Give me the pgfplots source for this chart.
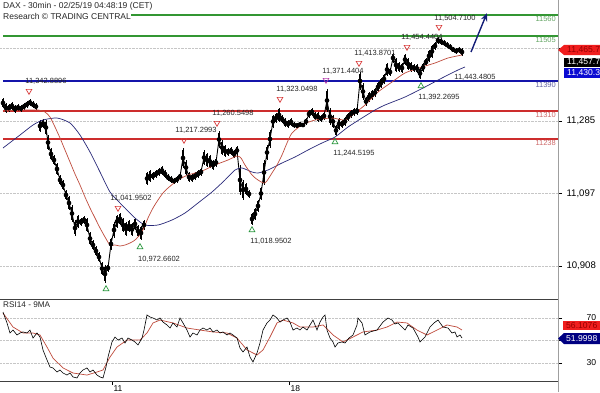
\documentclass[border=0pt]{standalone}
\usepackage{pgfplots}
\pgfplotsset{compat=1.18}
\usepackage{pgfplotstable}
\usetikzlibrary{arrows.meta}
\usepackage{fontspec}
\setmainfont{Liberation Sans}
\definecolor{lvgreen}{RGB}{50,150,50}
\definecolor{lvblue}{RGB}{20,20,170}
\definecolor{lvred}{RGB}{205,45,45}
\definecolor{txgreen}{RGB}{100,165,100}
\definecolor{txblue}{RGB}{100,100,165}
\definecolor{txred}{RGB}{205,105,105}
\definecolor{mared}{RGB}{190,75,60}
\definecolor{mablue}{RGB}{40,40,120}
\definecolor{trired}{RGB}{215,55,55}
\definecolor{tripurple}{RGB}{180,60,170}
\definecolor{trigreen}{RGB}{40,150,60}
\definecolor{arrowblue}{RGB}{20,30,120}
\definecolor{tagred}{RGB}{240,30,30}
\definecolor{tagredtx}{RGB}{150,0,0}
\definecolor{tagblue}{RGB}{10,10,210}
\definecolor{tagnavy}{RGB}{0,0,130}

\pgfplotstableread{
x y h
3 11331.8 13.0
6 11318.8 13.0
9 11318.8 10.4
12 11324.0 10.4
15 11316.2 10.4
18 11320.1 9.1
21 11317.5 9.1
24 11322.7 9.1
27 11327.9 9.1
30 11333.1 9.1
33 11327.9 9.1
36 11322.7 9.1
38 nan 0
40 11272.0 15.6
43 11278.5 11.7
46 11268.1 19.5
48 11229.1 19.5
51 11199.2 15.6
54 11183.6 13.0
57 11160.2 15.6
60 11131.6 13.0
63 11118.6 13.0
66 11092.6 13.0
69 11071.8 18.2
72 11044.5 22.1
75 11006.8 20.8
78 11023.7 16.9
81 11022.4 10.4
84 11027.6 10.4
87 11014.6 18.2
90 10979.5 16.9
93 10962.6 13.0
96 10947.0 13.0
99 10931.4 13.0
102 10901.5 16.9
105 10887.2 23.4
108 10902.8 10.4
111 10965.2 15.6
114 11001.6 20.8
117 11023.7 16.9
120 11030.2 15.6
123 11014.6 18.2
126 11004.2 18.2
129 11012.0 15.6
132 11002.9 16.9
135 11017.2 15.6
138 10999.0 15.6
141 10993.8 18.2
144 11014.6 13.0
145.5 nan 0
147 11135.5 16.9
150 11142.0 15.6
153 11142.0 10.4
156 11147.2 10.4
159 11152.4 10.4
162 11156.3 11.7
165 11147.2 10.4
168 11138.1 9.1
171 11132.9 9.1
174 11129.0 7.8
177 11132.9 9.1
180 11140.7 9.1
183 11188.8 26.0
186 11164.1 19.5
189 11139.4 13.0
192 11136.8 10.4
195 11142.0 10.4
198 11147.2 10.4
201 11152.4 10.4
204 11190.1 19.5
207 11183.6 18.2
210 11179.7 16.9
213 11170.6 13.0
216 11177.1 11.7
219 11236.9 22.1
222 11216.1 19.5
225 11207.0 15.6
228 11204.4 10.4
231 11207.0 10.4
234 11199.2 10.4
237 11208.3 11.7
240 11131.6 39.0
243 11105.6 26.0
246 11108.2 15.6
249 11095.2 10.4
250.5 nan 0
252 11030.2 15.6
255 11043.2 15.6
258 11064.0 15.6
261 11096.5 16.9
264 11151.1 32.5
267 11203.1 19.5
270 11238.2 23.4
273 11283.7 16.9
276 11292.8 13.0
279 11300.6 18.2
282 11290.2 10.4
285 11281.1 11.7
288 11277.2 10.4
291 11282.4 10.4
294 11274.6 7.8
297 11273.3 6.5
300 11275.9 6.5
303 11274.6 5.2
306 11283.7 9.1
309 11303.2 10.4
312 11308.4 10.4
315 11298.0 10.4
318 11295.4 13.0
321 11291.5 9.1
324 11298.0 10.4
327 11338.3 29.9
330 11296.7 22.1
333 11283.7 16.9
336 11260.3 14.3
339 11277.2 15.6
342 11277.2 10.4
345 11283.7 11.7
348 11295.4 10.4
351 11303.2 10.4
354 11308.4 10.4
357 11311.0 10.4
360 11389.0 23.4
363 11361.7 22.1
366 11335.7 11.7
369 11347.4 13.0
372 11352.6 13.0
375 11359.1 11.7
378 11373.4 13.0
381 11383.8 13.0
384 11394.2 13.0
387 11418.9 16.9
390 11412.4 10.4
393 11448.8 13.0
396 11430.6 18.2
399 11425.4 13.0
402 11422.8 13.0
405 11444.9 14.3
408 11433.2 15.6
411 11425.4 13.0
414 11422.8 10.4
417 11421.5 11.7
420 11408.5 14.3
423 11424.1 11.7
426 11438.4 10.4
429 11454.0 15.6
432 11465.7 16.9
435 11480.0 10.4
438 11494.3 9.1
441 11491.7 9.1
444 11487.8 7.8
447 11482.6 7.8
450 11477.4 7.8
453 11470.9 6.5
456 11467.0 7.8
459 11469.6 7.8
462 11464.4 10.4
}\candles

\begin{document}
\begin{tikzpicture}
\useasboundingbox (0pt,0pt) rectangle (600pt,392pt);
\begin{axis}[
  at={(0pt,93pt)}, anchor=south west,
  scale only axis, width=558pt, height=299pt,
  xmin=0, xmax=558, ymin=10822.2, ymax=11599.6,
  axis line style={draw=none},
  xtick=\empty,
  ytick={10908,11097,11285,11474},
  yticklabels={{10,908},{11,097},{11,285},{}},
  ytick pos=right, yticklabel pos=right,
  tick align=outside, major tick length=4pt,
  tick style={black, line width=0.5pt},
  yticklabel style={font=\fontsize{9.6}{10}\selectfont, anchor=west, xshift=1pt},
  ymajorgrids, grid style={densely dotted, gray!45, line width=0.6pt},
  unbounded coords=jump,
  clip=false,
]
% level lines
\draw[lvgreen, line width=1.8pt] (axis cs:131,11560) -- (axis cs:558,11560);
\draw[lvgreen, line width=1.8pt] (axis cs:3,11505) -- (axis cs:558,11505);
\draw[lvblue, line width=1.8pt] (axis cs:3,11390) -- (axis cs:558,11390);
\draw[lvred, line width=1.8pt] (axis cs:3,11310) -- (axis cs:558,11310);
\draw[lvred, line width=1.8pt] (axis cs:3,11238) -- (axis cs:558,11238);
\node[anchor=north east, inner sep=1pt, text=txgreen, font=\fontsize{7.5}{8}\selectfont] at (axis cs:557,11560) {11560};
\node[anchor=north east, inner sep=1pt, text=txgreen, font=\fontsize{7.5}{8}\selectfont] at (axis cs:557,11505) {11505};
\node[anchor=north east, inner sep=1pt, text=txblue, font=\fontsize{7.5}{8}\selectfont] at (axis cs:557,11390) {11390};
\node[anchor=north east, inner sep=1pt, text=txred, font=\fontsize{7.5}{8}\selectfont] at (axis cs:557,11310) {11310};
\node[anchor=north east, inner sep=1pt, text=txred, font=\fontsize{7.5}{8}\selectfont] at (axis cs:557,11238) {11238};
% candles: connecting line, wicks and bodies
\addplot[black, line width=0.9pt, mark=none] table[x=x, y=y] {\candles};
\addplot[only marks, mark=none, error bars/.cd, y dir=both, y explicit, error mark=none,
  error bar style={black, line width=0.6pt}] table[x=x, y=y, y error=h] {\candles};
\addplot[only marks, mark=none, error bars/.cd, y dir=both, y explicit, error mark=none,
  error bar style={black, line width=2.4pt}] table[x=x, y=y, y error expr=0.8*\thisrow{h}] {\candles};
% moving averages
\addplot[mablue, line width=0.7pt, smooth, tension=0.4, mark=none] coordinates {
(3,11214.8)(20,11248.6)(33,11274.6)(43,11287.6)(57,11292.8)(70,11279.8)(80,11248.6)(90,11204.4)
(100,11152.4)(110,11100.4)(120,11071.8)(125,11058.8)(135,11032.8)(145,11014.6)(158,11014.6)
(172,11027.6)(185,11045.8)(198,11071.8)(212,11100.4)(225,11131.6)(235,11157.6)(242,11162.8)
(252,11152.4)(258,11149.8)(268,11157.6)(282,11175.8)(295,11191.4)(308,11209.6)(322,11227.8)
(335,11243.4)(348,11269.4)(362,11292.8)(375,11313.6)(385,11326.6)(405,11347.4)(425,11373.4)
(442,11396.8)(458,11417.6)(465,11425.4)};
\addplot[mared, line width=0.7pt, smooth, tension=0.4, mark=none] coordinates {
(3,11311.0)(20,11313.6)(38,11313.6)(45,11308.4)(50,11295.4)(55,11269.4)(60,11240.8)(65,11209.6)
(70,11178.4)(75,11147.2)(80,11118.6)(85,11087.4)(90,11058.8)(95,11032.8)(100,11006.8)(105,10983.4)
(110,10962.6)(115,10962.6)(120,10960.0)(125,10962.6)(130,10967.8)(135,10975.6)(142,10996.4)
(148,11032.8)(153,11058.8)(158,11079.6)(163,11097.8)(168,11110.8)(178,11131.6)(188,11144.6)
(202,11155.0)(215,11170.6)(228,11183.6)(237,11194.0)(241,11188.8)(245,11170.6)(252,11144.6)
(258,11131.6)(265,11123.8)(272,11149.8)(277,11170.6)(282,11196.6)(287,11227.8)(292,11253.8)
(302,11274.6)(315,11287.6)(332,11292.8)(345,11287.6)(355,11305.8)(365,11326.6)(378,11360.4)
(392,11386.4)(405,11409.8)(422,11425.4)(435,11435.8)(448,11448.8)(462,11456.6)};
% swing markers
\addplot[trired, only marks, mark=triangle, mark size=3.3pt, mark options={rotate=180, line width=0.7pt}] coordinates {
(29,11363.0)(184,11235.6)(217,11279.8)(118,11058.8)(280,11342.2)(359,11435.8)(407,11477.4)(439,11529.4)};
\addplot[tripurple, only marks, mark=triangle, mark size=3.3pt, mark options={rotate=180, line width=0.7pt}] coordinates {(326,11391.6)};
\addplot[trigreen, only marks, mark=triangle, mark size=3.3pt, mark options={line width=0.7pt}] coordinates {
(106,10848.2)(140,10957.4)(252,11001.6)(335,11230.4)(421,11376.0)};
% value labels
\begin{scope}[every node/.style={font=\fontsize{7.5}{8}\selectfont, text=black!85, inner sep=0pt}]
\node at (axis cs:46,11389.0) {11,342.8896};
\node at (axis cs:196,11261.6) {11,217.2993};
\node at (axis cs:233,11305.8) {11,260.5498};
\node at (axis cs:131,11084.8) {11,041.9502};
\node at (axis cs:159,10926.2) {10,972.6602};
\node at (axis cs:271,10973.0) {11,018.9502};
\node at (axis cs:297,11368.2) {11,323.0498};
\node at (axis cs:343,11415.0) {11,371.4404};
\node at (axis cs:354,11201.8) {11,244.5195};
\node at (axis cs:375,11461.8) {11,413.8701};
\node at (axis cs:422,11503.4) {11,454.4404};
\node at (axis cs:455,11552.8) {11,504.7100};
\node at (axis cs:439,11347.4) {11,392.2695};
\node at (axis cs:475,11399.4) {11,443.4805};
\end{scope}
\draw[arrowblue, line width=1.4pt, -{Stealth[length=8pt,width=6.5pt]}] (axis cs:471,11464.4) -- (axis cs:487,11565.8);
\end{axis}

\begin{axis}[
  at={(0pt,11pt)}, anchor=south west,
  scale only axis, width=558pt, height=82pt,
  xmin=0, xmax=558, ymin=14, ymax=86.9,
  axis line style={draw=none},
  xtick={112,289}, xticklabels={11,18},
  xtick pos=left,
  xticklabel style={font=\fontsize{8.5}{9}\selectfont, anchor=north west, xshift=-2pt, yshift=3pt},
  ytick={30,50,70}, yticklabels={30,{},70},
  ytick pos=right, yticklabel pos=right,
  yticklabel style={font=\fontsize{8.6}{9}\selectfont, anchor=west, xshift=21pt},
  tick align=outside, major tick length=4pt,
  tick style={black, line width=0.5pt},
  ymajorgrids, grid style={densely dotted, gray!45, line width=0.6pt},
]
\addplot[mared, line width=0.7pt, mark=none] coordinates {
(3,74.4)(13,62.0)(23,56.7)(33,56.7)(40,54.9)(47,44.2)(53,34.4)(63,25.6)(73,21.1)(87,19.3)(97,22.0)
(103,23.8)(110,35.3)(117,44.2)(127,50.4)(140,50.4)(147,56.7)(153,65.6)(160,68.2)(173,65.6)(187,61.1)
(200,59.3)(213,57.6)(227,56.7)(237,52.2)(247,41.6)(257,37.1)(263,41.6)(270,53.1)(277,65.6)(283,68.2)
(293,65.6)(300,62.0)(313,62.0)(323,63.8)(333,54.9)(343,48.7)(353,53.1)(363,57.6)(377,59.3)(387,62.0)
(397,66.4)(407,65.6)(417,59.3)(427,54.9)(437,59.3)(447,63.8)(457,62.0)(462,59.3)};
\addplot[black, line width=0.6pt, mark=none] coordinates {
(3,75.3)(7,65.6)(10,56.7)(13,59.3)(17,54.9)(20,56.7)(23,57.6)(27,56.7)(30,59.3)(33,52.2)(37,56.7)
(40,53.1)(43,41.6)(47,32.7)(50,26.4)(53,25.6)(57,22.0)(60,23.8)(63,21.1)(67,19.3)(70,21.1)(73,17.6)
(77,16.7)(80,21.1)(83,23.8)(87,25.6)(90,22.0)(93,23.8)(97,19.3)(100,17.6)(103,16.7)(106,26.4)
(108,35.3)(112,48.7)(115,53.1)(118,50.4)(122,52.2)(125,47.8)(128,52.2)(132,50.4)(135,48.7)(138,46.0)
(142,52.2)(144,59.3)(147,72.7)(150,70.9)(153,70.0)(157,68.2)(160,70.0)(163,66.4)(167,63.8)(170,61.1)
(173,65.6)(177,62.0)(180,70.0)(183,65.6)(187,59.3)(190,53.1)(193,56.7)(197,54.9)(200,59.3)(203,61.1)
(207,59.3)(210,61.1)(213,57.6)(217,59.3)(220,56.7)(223,57.6)(227,54.9)(230,56.7)(233,54.9)(237,52.2)
(240,43.3)(243,39.8)(247,44.2)(250,35.3)(253,30.9)(257,38.9)(260,47.8)(263,59.3)(267,65.6)(270,68.2)
(273,72.7)(277,70.0)(280,66.4)(283,68.2)(287,70.0)(290,66.4)(293,59.3)(297,61.1)(300,59.3)(303,62.0)
(307,59.3)(310,63.8)(313,68.2)(317,59.3)(320,66.4)(323,70.9)(325,72.7)(327,59.3)(330,52.2)(333,48.7)
(335,44.2)(338,47.8)(342,48.7)(345,47.8)(349,52.2)(353,54.9)(357,63.8)(358,70.0)(362,65.6)(365,54.9)
(370,57.6)(377,59.3)(383,66.4)(388,70.0)(392,68.2)(395,64.7)(398,65.6)(402,62.0)(405,59.3)(408,63.8)
(413,61.1)(418,53.1)(420,48.7)(425,53.1)(430,62.0)(434,65.6)(438,68.2)(443,62.0)(448,61.1)(452,56.7)
(455,57.6)(457,53.1)(460,54.9)(462,52.2)};
\end{axis}

% frame lines
\draw[gray!75, line width=0.9pt] (558pt,0pt) -- (558pt,392pt);
\draw[black!75, line width=0.8pt] (0pt,93pt) -- (558pt,93pt);
\draw[black!75, line width=0.8pt] (0pt,11pt) -- (558pt,11pt);
% titles
\node[anchor=west, inner sep=0pt, font=\fontsize{8.5}{9}\selectfont, text=black!85] at (3pt,385.5pt) {DAX - 30min - 02/25/19 04:48:19 (CET)};
\node[anchor=west, inner sep=0pt, font=\fontsize{8.5}{9}\selectfont, text=black!85] at (3pt,375.5pt) {Research © TRADING CENTRAL};
\node[anchor=west, inner sep=0pt, font=\fontsize{8.2}{9}\selectfont, text=black!85] at (3pt,87pt) {RSI14 - 9MA};
% price tags
\fill[tagred] (558pt,342pt) -- (564pt,347pt) -- (600pt,347pt) -- (600pt,337pt) -- (564pt,337pt) -- cycle;
\node[anchor=west, inner sep=0pt, text=tagredtx, font=\fontsize{8.6}{9}\selectfont] at (567pt,342pt) {11,465.7};
\fill[black] (564pt,325pt) rectangle (600pt,334.5pt);
\node[anchor=west, inner sep=0pt, text=white, font=\fontsize{8.6}{9}\selectfont] at (567pt,329.7pt) {11,457.7};
\fill[tagblue] (564pt,314.5pt) rectangle (600pt,324pt);
\node[anchor=west, inner sep=0pt, text=white, font=\fontsize{8.6}{9}\selectfont] at (567pt,319.2pt) {11,430.3};
% rsi tags
\fill[tagred] (563pt,62pt) rectangle (600pt,71pt);
\node[anchor=west, inner sep=0pt, text=tagredtx, font=\fontsize{8.6}{9}\selectfont] at (566pt,66.5pt) {56.1076};
\fill[tagnavy] (558pt,53.5pt) -- (564pt,59pt) -- (600pt,59pt) -- (600pt,48pt) -- (564pt,48pt) -- cycle;
\node[anchor=west, inner sep=0pt, text=white, font=\fontsize{8.6}{9}\selectfont] at (566pt,53.5pt) {51.9998};
\end{tikzpicture}
\end{document}
